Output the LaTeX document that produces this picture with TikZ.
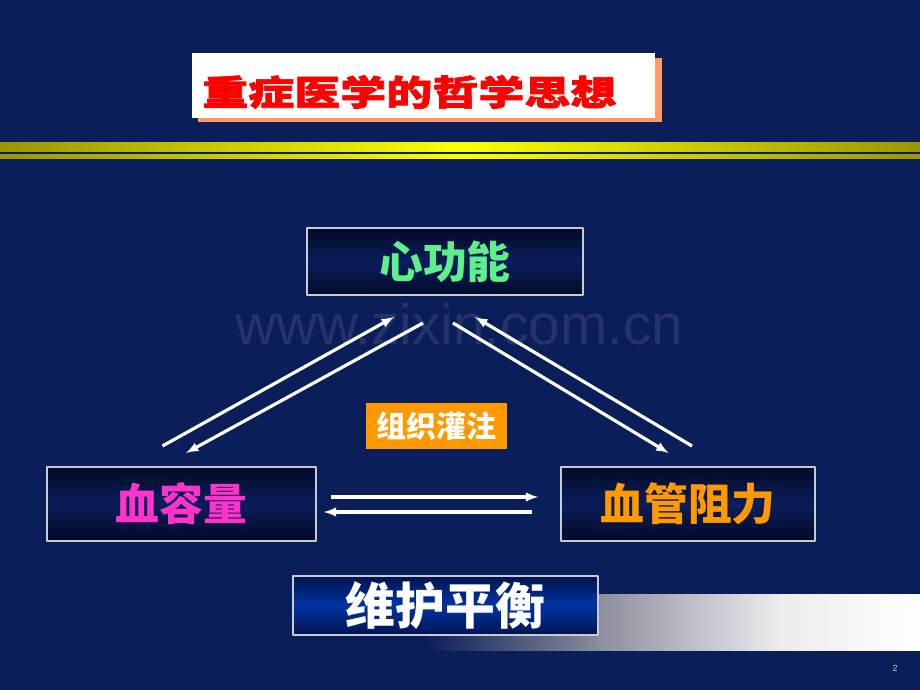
\documentclass[tikz,border=0pt]{standalone}
\usepackage{fontspec}
\usetikzlibrary{arrows}
\newfontfamily\cjkfont{Noto Sans CJK SC}
\newfontfamily\titlefont{Noto Sans CJK SC}[FakeStretch=1.32,FakeBold=2]
\newfontfamily\markfont{Liberation Sans}
\definecolor{slidebg}{HTML}{0A1E5A}
\definecolor{boxdark}{HTML}{030A28}
\definecolor{boxline}{HTML}{C8CAD4}
\definecolor{bluemid}{HTML}{0034A2}
\definecolor{bluedark}{HTML}{021450}
\definecolor{yolive}{HTML}{9C9600}
\definecolor{ybright}{HTML}{FFFF00}
\definecolor{shadowred}{HTML}{FF9966}
\definecolor{titlered}{HTML}{FF0000}
\definecolor{heartgreen}{HTML}{5EF08C}
\definecolor{volpink}{HTML}{FF33CC}
\definecolor{resorange}{HTML}{FF9900}
\definecolor{markgray}{HTML}{24346A}
\definecolor{barmid}{HTML}{8C8E9C}
\definecolor{barlight}{HTML}{ECECEF}
\begin{document}
\begin{tikzpicture}[>=latex,line join=bevel,
  box/.style={draw=boxline,line width=1.5bp,top color=boxdark,bottom color=boxdark,middle color=slidebg,inner sep=0pt},
  label/.style={font=\cjkfont\bfseries\fontsize{44}{44}\selectfont},
  flow/.style={white,line width=3.2bp,->},
]
%%
\useasboundingbox (0bp,0bp) rectangle (920bp,690bp);
\fill [slidebg] (0bp,0bp) rectangle (920bp,690bp);
%% watermark
\node (node_mark) at (459.5bp,345bp) [anchor=base,text=markgray,font=\markfont\fontsize{57}{57}\selectfont] {www.zixin.com.cn};
%% title
\fill [shadowred] (198bp,568bp) rectangle (662bp,632bp);
\node (node_title) at (423.5bp,604.5bp) [fill=white,minimum width=463bp,minimum height=65bp] {};
\node (node_titletext) at (202bp,598bp) [anchor=west,inner sep=0pt,text=titlered,font=\titlefont\bfseries\fontsize{35}{35}\selectfont] {重症医学的哲学思想};
%% yellow bands
\foreach \ylo/\yhi in {538/547,531/535}
  \shade [left color=yolive,right color=yolive,middle color=ybright] (0bp,\ylo bp) rectangle (920bp,\yhi bp);
%% gray bar
\shade [left color=slidebg,right color=barmid] (427bp,39bp) rectangle (600bp,95bp);
\shade [left color=barmid,right color=barlight] (599.5bp,39bp) rectangle (780bp,95bp);
\shade [left color=barlight,right color=white] (779.5bp,39bp) rectangle (920bp,95bp);
%% boxes
\node (node_heart) at (445bp,428.5bp) [box,minimum width=276bp,minimum height=67bp,label,text=heartgreen] {心功能};
\node (node_volume) at (181.5bp,186bp) [box,minimum width=269bp,minimum height=74bp,label,text=volpink] {血容量};
\node (node_resist) at (688bp,186bp) [box,minimum width=254bp,minimum height=74bp,label,text=resorange] {血管阻力};
\node (node_balance) at (445.5bp,84.5bp) [draw=boxline,line width=1.5bp,top color=bluedark,bottom color=bluedark,middle color=bluemid,inner sep=0pt,minimum width=305bp,minimum height=59bp,font=\cjkfont\bfseries\fontsize{50}{50}\selectfont,text=white] {维护平衡};
\node (node_perfusion) at (436.5bp,264bp) [fill=resorange,inner sep=0pt,minimum width=141bp,minimum height=46bp,font=\cjkfont\bfseries\fontsize{30}{30}\selectfont,text=white] {组织灌注};
%% arrow ends
\coordinate (vol_up) at (162.5bp,244bp);
\coordinate (heart_l_in) at (394bp,373bp);
\coordinate (heart_l_out) at (423bp,367bp);
\coordinate (vol_in) at (186bp,237bp);
\coordinate (heart_r_out) at (453bp,367bp);
\coordinate (res_in) at (668.6bp,237bp);
\coordinate (res_up) at (692bp,244bp);
\coordinate (heart_r_in) at (475bp,373bp);
\draw [flow] (vol_up) -- (heart_l_in);
\draw [flow] (heart_l_out) -- (vol_in);
\draw [flow] (heart_r_out) -- (res_in);
\draw [flow] (res_up) -- (heart_r_in);
\draw [flow] ([xshift=14bp,yshift=7bp]node_volume.east) -- ([xshift=-22bp,yshift=7bp]node_resist.west);
\draw [flow] ([xshift=-28bp,yshift=-8bp]node_resist.west) -- ([xshift=7bp,yshift=-8bp]node_volume.east);
%% page number
\node (node_page) at (895bp,22bp) [font=\markfont\fontsize{9}{9}\selectfont,text=boxline] {2};
%
\end{tikzpicture}
\end{document}
